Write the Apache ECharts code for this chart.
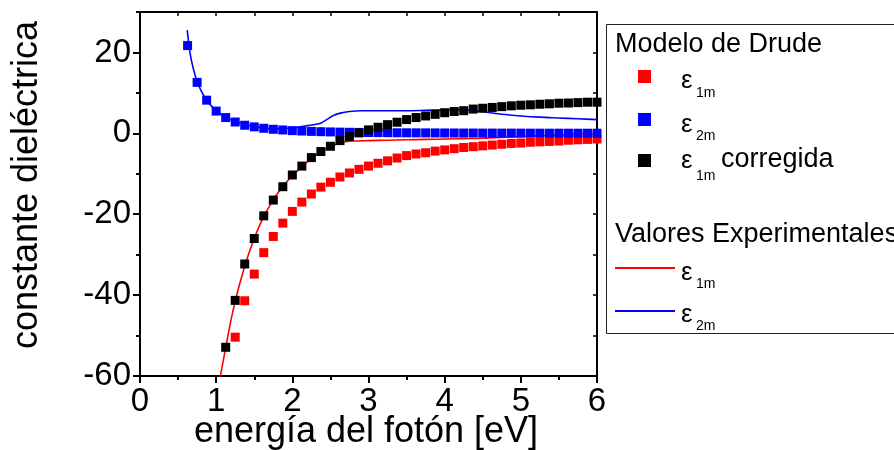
<!DOCTYPE html>
<html><head><meta charset="utf-8">
<script src="https://cdn.jsdelivr.net/npm/echarts@6/dist/echarts.min.js"></script>
<style>html,body{margin:0;padding:0;background:#fff}#chart{width:894px;height:450px}</style>
</head><body><div id="chart"></div><script>
// Energía del fotón (eV) - malla del modelo de Drude
const energia = [0.625,0.75,0.875,1.0,1.125,1.25,1.375,1.5,1.625,1.75,1.875,2.0,2.125,2.25,2.375,2.5,2.625,2.75,2.875,3.0,3.125,3.25,3.375,3.5,3.625,3.75,3.875,4.0,4.125,4.25,4.375,4.5,4.625,4.75,4.875,5.0,5.125,5.25,5.375,5.5,5.625,5.75,5.875,6.0];
// Modelo de Drude: eps1m
const eps1m = [null,null,null,null,null,-50.4,-41.4,-34.8,-29.5,-25.5,-22.2,-19.3,-17.0,-15.0,-13.3,-12.1,-10.8,-9.8,-8.9,-8.1,-7.4,-6.8,-6.1,-5.5,-5.1,-4.8,-4.4,-4.1,-3.8,-3.5,-3.3,-3.1,-2.9,-2.7,-2.5,-2.4,-2.2,-2.1,-2.0,-1.9,-1.7,-1.6,-1.5,-1.4];
// Modelo de Drude: eps2m
const eps2m = [21.7,12.6,8.2,5.5,3.9,2.8,2.0,1.6,1.25,1.0,0.83,0.67,0.57,0.48,0.41,0.35,0.3,0.26,0.23,0.2,0.18,0.16,0.14,0.13,0.12,0.11,0.1,0.09,0.08,0.07,0.07,0.06,0.06,0.05,0.05,0.05,0.04,0.04,0.04,0.04,0.03,0.03,0.03,0.03];
// Modelo de Drude: eps1m corregida
const eps1mCorr = [null,null,null,null,-52.9,-41.3,-32.3,-26.0,-20.4,-16.5,-13.2,-10.3,-8.1,-6.0,-4.5,-3.2,-1.8,-0.8,0.1,0.85,1.5,2.15,2.75,3.4,3.9,4.3,4.7,5.1,5.4,5.6,6.0,6.2,6.4,6.6,6.8,6.95,7.05,7.2,7.3,7.45,7.5,7.6,7.7,7.7];
// Valores experimentales eps1m
const energiaExp1 = [1.05,1.1,1.15,1.2,1.25,1.3,1.4,1.5,1.6,1.7,1.8,1.9,2.0,2.1,2.2,2.3,2.4,2.5,2.6,2.7,2.8,3.0,3.25,3.5,3.75,4.0,4.25,4.5,4.75,5.0,5.25,5.5,5.75,6.0];
const eps1Exp = [-60.5,-55.5,-50.5,-45.7,-41.5,-37.8,-31.3,-26.0,-21.5,-18.0,-15.0,-12.6,-10.5,-8.7,-7.0,-5.5,-4.3,-3.3,-2.5,-2.1,-1.9,-1.8,-1.7,-1.6,-1.5,-1.4,-1.3,-1.2,-1.0,-0.8,-0.6,-0.4,-0.2,0.0];
// Valores experimentales eps2m
const energiaExp2 = [0.62,0.66,0.7,0.75,0.8,0.875,1.0,1.125,1.25,1.375,1.5,1.75,2.0,2.1,2.2,2.3,2.37,2.45,2.54,2.63,2.75,2.9,3.0,3.25,3.5,3.75,4.0,4.25,4.4,4.5,4.6,4.75,5.0,5.25,5.5,5.75,6.0];
const eps2Exp = [25.5,19.5,16.0,12.8,10.6,8.2,5.6,4.0,2.9,2.2,1.7,1.1,1.3,1.6,1.9,2.2,2.5,3.4,4.4,5.0,5.4,5.6,5.6,5.6,5.6,5.7,5.8,5.8,5.6,5.4,5.1,4.7,4.3,4.0,3.8,3.6,3.4];
// Ticks
const xTicks = {min: 0, max: 6, interval: 1};
const yTicks = {min: -60, max: 30, interval: 20};

const FONT = "'Liberation Sans', Arial, sans-serif";
const zip = (xs, ys) => xs.map((x, i) => [x, ys[i]]).filter(p => p[1] !== null);

const chart = echarts.init(document.getElementById('chart'), null, {renderer: 'canvas'});
const black = '#000';
const axisLine = {show: true, onZero: false, lineStyle: {color: black, width: 2}};
const sq = (color) => ({color: color, opacity: 1});
const eps = (x, y, sub, subY) => ([
  {type: 'text', x: x, y: y, style: {text: 'ε', fontSize: 26, fontFamily: FONT, fill: black, align: 'left', verticalAlign: 'middle'}},
  {type: 'text', x: x + 15, y: subY, style: {text: sub, fontSize: 14, fontFamily: FONT, fill: black, align: 'left', verticalAlign: 'middle'}}
]);
const option = {
  animation: false,
  backgroundColor: '#fff',
  grid: {left: 140, top: 12, width: 457, height: 364, outerBoundsMode: 'none'},
  xAxis: [
    {type: 'value', position: 'bottom', min: xTicks.min, max: xTicks.max, interval: xTicks.interval,
     axisLine: axisLine,
     axisTick: {show: true, inside: false, length: 7, lineStyle: {color: black, width: 2}},
     minorTick: {show: true, splitNumber: 2, length: 4, lineStyle: {color: black, width: 2}},
     axisLabel: {color: black, fontSize: 33, fontFamily: FONT, margin: 9},
     splitLine: {show: false}, minorSplitLine: {show: false}},
    {type: 'value', position: 'top', min: xTicks.min, max: xTicks.max, interval: 0.5,
     axisLine: axisLine,
     axisTick: {show: true, inside: true, length: 4, lineStyle: {color: black, width: 1.5}},
     axisLabel: {show: false}, splitLine: {show: false}}
  ],
  yAxis: [
    {type: 'value', position: 'left', min: yTicks.min, max: yTicks.max, interval: yTicks.interval,
     axisLine: axisLine,
     axisTick: {show: true, inside: false, length: 7, lineStyle: {color: black, width: 2}},
     axisLabel: {color: black, fontSize: 33, fontFamily: FONT, margin: 9, showMaxLabel: false},
     splitLine: {show: false}},
    {type: 'value', position: 'left', min: yTicks.min, max: yTicks.max, interval: 10,
     axisLine: {show: false},
     axisTick: {show: true, inside: false, length: 4, lineStyle: {color: black, width: 2}},
     axisLabel: {show: false}, splitLine: {show: false}},
    {type: 'value', position: 'right', min: yTicks.min, max: yTicks.max, interval: 10,
     axisLine: axisLine,
     axisTick: {show: true, inside: true, length: 4, lineStyle: {color: black, width: 1.5}},
     axisLabel: {show: false}, splitLine: {show: false}}
  ],
  series: [
    {name: 'exp eps1m', type: 'line', xAxisIndex: 0, yAxisIndex: 0, data: zip(energiaExp1, eps1Exp),
     symbol: 'none', smooth: 0.3, lineStyle: {color: '#ff0000', width: 1.6}, z: 2},
    {name: 'exp eps2m', type: 'line', xAxisIndex: 0, yAxisIndex: 0, data: zip(energiaExp2, eps2Exp),
     symbol: 'none', smooth: 0.3, lineStyle: {color: '#0000ff', width: 1.6}, z: 2},
    {name: 'eps1m', type: 'scatter', xAxisIndex: 0, yAxisIndex: 0, data: zip(energia, eps1m),
     symbol: 'rect', symbolSize: 9, itemStyle: sq('#ff0000'), z: 3},
    {name: 'eps2m', type: 'scatter', xAxisIndex: 0, yAxisIndex: 0, data: zip(energia, eps2m),
     symbol: 'rect', symbolSize: 9, itemStyle: sq('#0000ff'), z: 4},
    {name: 'eps1m corregida', type: 'scatter', xAxisIndex: 0, yAxisIndex: 0, data: zip(energia, eps1mCorr),
     symbol: 'rect', symbolSize: 9, itemStyle: sq('#000000'), z: 5}
  ],
  graphic: [
    {type: 'text', x: 27, y: 185, rotation: Math.PI / 2,
     style: {text: 'constante dieléctrica', fontSize: 36, fontFamily: FONT, fill: black, align: 'center', verticalAlign: 'middle'}},
    {type: 'text', x: 366, y: 432,
     style: {text: 'energía del fotón [eV]', fontSize: 36, fontFamily: FONT, fill: black, align: 'center', verticalAlign: 'middle'}},
    {type: 'rect', shape: {x: 606.5, y: 24.5, width: 330, height: 309}, style: {fill: '#fff', stroke: '#222', lineWidth: 1}},
    {type: 'text', x: 615, y: 45, style: {text: 'Modelo de Drude', fontSize: 27, fontFamily: FONT, fill: black, align: 'left', verticalAlign: 'middle'}},
    {type: 'rect', shape: {x: 638, y: 70, width: 13, height: 13}, style: {fill: '#ff0000'}},
    ...eps(681, 81, '1m', 93),
    {type: 'rect', shape: {x: 638, y: 113, width: 13, height: 13}, style: {fill: '#0000ff'}},
    ...eps(681, 124.5, '2m', 136),
    {type: 'rect', shape: {x: 638, y: 154, width: 13, height: 13}, style: {fill: '#000000'}},
    ...eps(681, 161, '1m', 176),
    {type: 'text', x: 721, y: 160, style: {text: 'corregida', fontSize: 27, fontFamily: FONT, fill: black, align: 'left', verticalAlign: 'middle'}},
    {type: 'text', x: 615, y: 235, style: {text: 'Valores Experimentales', fontSize: 27, fontFamily: FONT, fill: black, align: 'left', verticalAlign: 'middle'}},
    {type: 'line', shape: {x1: 615, y1: 268, x2: 675, y2: 268}, style: {stroke: '#ff0000', lineWidth: 2}},
    ...eps(681, 273, '1m', 284),
    {type: 'line', shape: {x1: 615, y1: 311, x2: 675, y2: 311}, style: {stroke: '#0000ff', lineWidth: 2}},
    ...eps(681, 314.5, '2m', 326)
  ]
};
chart.setOption(option);
</script></body></html>
